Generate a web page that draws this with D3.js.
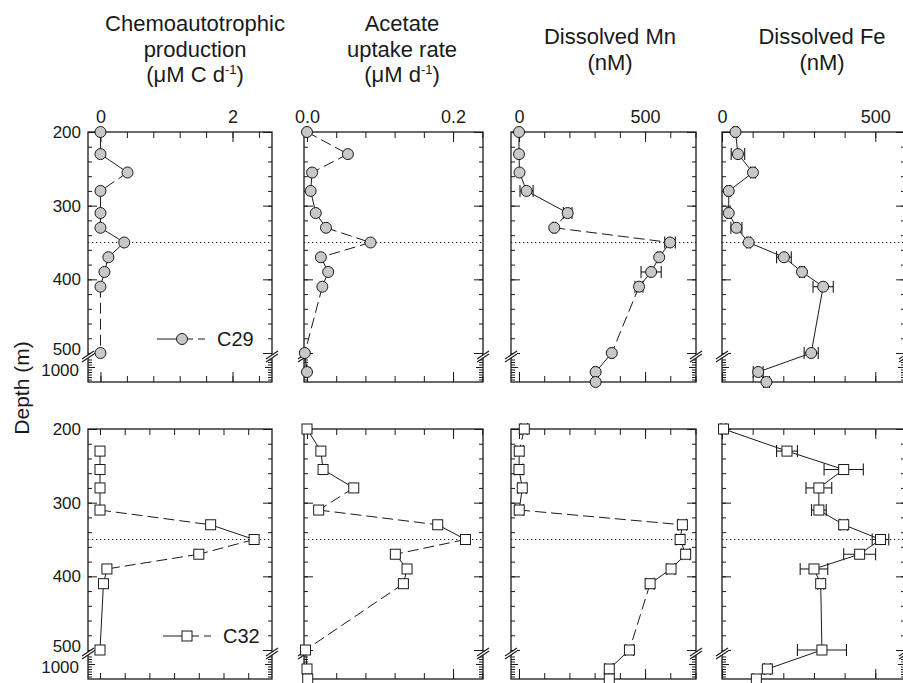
<!DOCTYPE html>
<html>
<head>
<meta charset="utf-8">
<script src="https://cdn.jsdelivr.net/npm/d3@7"></script>
<style>
  body { margin: 0; background: #fff; }
  svg { display: block; font-family: "Liberation Sans", Arial, Helvetica, sans-serif; }
</style>
</head>
<body>
<svg width="903" height="683"></svg>
<script>
// ---- data (depth in m) ----
const depthsChemoC29 = [200, 230, 255, 280, 310, 330, 350, 370, 390, 410, 500];
const chemoC29 = [0, 0, 0.41, 0, 0, 0, 0.36, 0.12, 0.06, 0, 0];

const depthsAcetateC29 = [200, 230, 255, 280, 310, 330, 350, 370, 390, 410, 500, 1100];
const acetateC29 = [0, 0.056, 0.007, 0.005, 0.012, 0.026, 0.087, 0.019, 0.029, 0.021, -0.003, 0];

const depthsMetalC29 = [200, 230, 255, 280, 310, 330, 350, 370, 390, 410, 500, 1100, 1300];
const mnC29 = [0, 0, 2, 30, 193, 140, 599, 556, 524, 476, 368, 304, 304];
const mnC29Err = [0, 0, 0, 26, 17, 6, 21, 6, 40, 16, 6, 6, 0];
const feC29 = [44, 52, 101, 22, 22, 47, 87, 202, 261, 330, 291, 118, 145];
const feC29Err = [6, 22, 8, 6, 6, 18, 6, 24, 8, 33, 23, 16, 10];

const depthsChemoC32 = [230, 255, 280, 310, 330, 350, 370, 390, 410, 500];
const chemoC32 = [0, 0, 0, 0, 2.24, 3.12, 2.0, 0.14, 0.07, 0];

const depthsC32 = [200, 230, 255, 280, 310, 330, 350, 370, 390, 410, 500, 1100, 1300];
const acetateC32 = [0, 0.019, 0.022, 0.064, 0.016, 0.179, 0.217, 0.121, 0.137, 0.132, -0.002, 0, 0.001];
const mnC32 = [21, 1, 0, 13, 1, 648, 639, 661, 603, 520, 438, 358, 358];
const mnC32Err = [13, 16, 16, 16, 16, 16, 16, 16, 16, 16, 16, 16, 16];
const feC32 = [5, 212, 397, 316, 316, 397, 517, 449, 300, 322, 326, 148, 112];
const feC32Err = [8, 34, 64, 42, 24, 12, 27, 52, 45, 10, 80, 10, 0];

// segment styles between successive samples (1 = dashed)
const chemoC29Dash = [0, 0, 1, 0, 0, 0, 0, 0, 0, 1];
const acetateC29Dash = [1, 1, 0, 0, 0, 1, 1, 0, 0, 1, 0];
const mnC29Dash = [0, 0, 0, 0, 1, 1, 0, 0, 0, 1, 0, 0];
const feC29Dash = [0, 0, 0, 0, 0, 0, 0, 0, 0, 0, 0, 0];
const chemoC32Dash = [0, 0, 0, 1, 0, 1, 1, 0, 0];
const acetateC32Dash = [0, 0, 0, 1, 1, 0, 1, 0, 0, 1, 0, 0];
const mnC32Dash = [1, 0, 0, 0, 1, 0, 0, 0, 0, 1, 0, 0];
const feC32Dash = [0, 0, 0, 0, 0, 0, 0, 0, 0, 0, 0, 0];

// ticks
const depthMajor = [200, 300, 400, 500];
const depthMinor = d3.range(220, 500, 20);
const deepLabel = [1000];
const deepMinor = d3.range(850, 1300, 50);
const chemoTicks = d3.range(0, 2.41, 0.4);
const chemoTicksC32 = d3.range(0, 3.01, 0.5);
const chemoLabels = [0, 2];
const acetateTicks = d3.range(0, 0.241, 0.04);
const acetateLabels = [0, 0.2];
const mnTicks = d3.range(0, 701, 100);
const feTicks = d3.range(0, 501, 100);
const metalLabels = [0, 500];

const oxicDepth = 350;
const seriesNames = ["C29", "C32"];

// ---- layout ----
const svg = d3.select("svg");
const ink = "#1a1a1a";
const rowTop = [132, 429];
const panelLeft = [88, 304, 511, 722];
const panelWidth = [184, 179, 185, 183];
const frameH = 250;

function depthScales(top) {
  const upper = d3.scaleLinear().domain([200, 500]).range([top, top + 221]);
  const lower = d3.scaleLinear().domain([800, 1300]).range([top + 225, top + 250]);
  const y = (d) => (d <= 500 ? upper(d) : lower(d));
  return { upper, lower, y };
}

function xScale(col, domain) {
  return d3.scaleLinear().domain(domain).range([panelLeft[col], panelLeft[col] + panelWidth[col]]);
}

const xChemoTop = xScale(0, [-0.189, 2.598]);
const xChemoBot = xScale(0, [-0.243, 3.482]);
const xAcetate = xScale(1, [-0.0041, 0.241]);
const xMn = xScale(2, [-31.7, 702]);
const xFe = xScale(3, [0, 597]);

const panels = [
  { row: 0, col: 0, x: xChemoTop, ticks: chemoTicks, labels: chemoLabels, fmt: d3.format("d"),
    depths: depthsChemoC29, values: chemoC29, dash: chemoC29Dash },
  { row: 0, col: 1, x: xAcetate, ticks: acetateTicks, labels: acetateLabels, fmt: d3.format(".1f"),
    depths: depthsAcetateC29, values: acetateC29, dash: acetateC29Dash },
  { row: 0, col: 2, x: xMn, ticks: mnTicks, labels: metalLabels, fmt: d3.format("d"),
    depths: depthsMetalC29, values: mnC29, err: mnC29Err, dash: mnC29Dash },
  { row: 0, col: 3, x: xFe, ticks: feTicks, labels: metalLabels, fmt: d3.format("d"),
    depths: depthsMetalC29, values: feC29, err: feC29Err, dash: feC29Dash },
  { row: 1, col: 0, x: xChemoBot, ticks: chemoTicksC32, labels: [],
    depths: depthsChemoC32, values: chemoC32, dash: chemoC32Dash },
  { row: 1, col: 1, x: xAcetate, ticks: acetateTicks, labels: acetateLabels,
    depths: depthsC32, values: acetateC32, dash: acetateC32Dash },
  { row: 1, col: 2, x: xMn, ticks: mnTicks, labels: metalLabels,
    depths: depthsC32, values: mnC32, err: mnC32Err, dash: mnC32Dash },
  { row: 1, col: 3, x: xFe, ticks: feTicks, labels: metalLabels,
    depths: depthsC32, values: feC32, err: feC32Err, dash: feC32Dash },
];

function styleAxis(g) {
  g.select(".domain").remove();
  g.selectAll(".tick line").attr("stroke", ink).attr("stroke-width", 1);
  g.selectAll(".tick text").attr("fill", ink).style("font-size", "18px");
}

panels.forEach((p) => {
  const top = rowTop[p.row];
  const left = panelLeft[p.col];
  const right = left + panelWidth[p.col];
  const bottom = top + frameH;
  const ys = depthScales(top);
  const g = svg.append("g");

  // frame
  g.append("rect")
    .attr("x", left).attr("y", top)
    .attr("width", panelWidth[p.col]).attr("height", frameH)
    .attr("fill", "none").attr("stroke", ink).attr("stroke-width", 1.3);

  // x ticks, top and bottom, pointing inward
  const showLabels = p.row === 0;
  g.append("g").attr("transform", `translate(0,${top})`)
    .call(d3.axisTop(p.x).tickValues(p.ticks).tickSize(-6).tickFormat(""))
    .call(styleAxis);
  g.append("g").attr("transform", `translate(0,${bottom})`)
    .call(d3.axisBottom(p.x).tickValues(p.ticks).tickSize(-6).tickFormat(""))
    .call(styleAxis);
  if (p.labels.length) {
    g.append("g").attr("transform", `translate(0,${top})`)
      .call(d3.axisTop(p.x).tickValues(p.labels).tickSize(-10).tickPadding(9)
        .tickFormat(showLabels ? p.fmt : ""))
      .call(styleAxis);
    g.append("g").attr("transform", `translate(0,${bottom})`)
      .call(d3.axisBottom(p.x).tickValues(p.labels).tickSize(-10).tickFormat(""))
      .call(styleAxis);
  }

  // depth ticks, left and right
  [[d3.axisLeft, left], [d3.axisRight, right]].forEach(([axis, xPos], side) => {
    const labelled = p.col === 0 && side === 0;
    g.append("g").attr("transform", `translate(${xPos},0)`)
      .call(axis(ys.upper).tickValues(depthMinor).tickSize(-4).tickFormat(""))
      .call(styleAxis);
    g.append("g").attr("transform", `translate(${xPos},0)`)
      .call(axis(ys.upper).tickValues(depthMajor).tickSize(-9).tickPadding(7)
        .tickFormat(labelled ? d3.format("d") : ""))
      .call(styleAxis)
      .call((ax) => ax.selectAll(".tick text")
        .style("font-size", "17px")
        .attr("dy", (d) => (d === 500 ? "0.1em" : "0.32em")));
    g.append("g").attr("transform", `translate(${xPos},0)`)
      .call(axis(ys.lower).tickValues(deepMinor).tickSize(-4).tickFormat(""))
      .call(styleAxis);
    g.append("g").attr("transform", `translate(${xPos},0)`)
      .call(axis(ys.lower).tickValues(deepLabel).tickSize(-7).tickPadding(9)
        .tickFormat(labelled ? d3.format("d") : ""))
      .call(styleAxis)
      .call((ax) => ax.selectAll(".tick text")
        .style("font-size", "17px").attr("dy", "0.5em"));
  });

  // axis break marks
  const yb = top + 224;
  [left, right].forEach((xb) => {
    g.append("polygon")
      .attr("points", `${xb - 6},${yb + 3} ${xb + 6},${yb - 5} ${xb + 6},${yb - 2} ${xb - 6},${yb + 6}`)
      .attr("fill", "#fff");
    [0, 3].forEach((o) => {
      g.append("line")
        .attr("x1", xb - 6).attr("y1", yb + 3 + o)
        .attr("x2", xb + 6).attr("y2", yb - 5 + o)
        .attr("stroke", ink).attr("stroke-width", 1.1);
    });
  });

  // dotted reference depth
  g.append("line")
    .attr("x1", left).attr("x2", right)
    .attr("y1", ys.y(oxicDepth)).attr("y2", ys.y(oxicDepth))
    .attr("stroke", ink).attr("stroke-width", 1.2)
    .attr("stroke-dasharray", "1.3,2.7");

  // profile segments
  const pts = p.depths.map((d, i) => [p.x(p.values[i]), ys.y(d)]);
  const line = d3.line();
  p.dash.forEach((dsh, i) => {
    g.append("path")
      .attr("d", line([pts[i], pts[i + 1]]))
      .attr("fill", "none").attr("stroke", ink).attr("stroke-width", 1)
      .attr("stroke-dasharray", dsh ? "11,5" : null);
  });

  // error bars
  if (p.err) {
    p.err.forEach((e, i) => {
      if (!e) return;
      const y = pts[i][1];
      const x0 = p.x(p.values[i] - e);
      const x1 = p.x(p.values[i] + e);
      g.append("line").attr("x1", x0).attr("x2", x1).attr("y1", y).attr("y2", y)
        .attr("stroke", ink).attr("stroke-width", 1.1);
      [x0, x1].forEach((xc) => {
        g.append("line").attr("x1", xc).attr("x2", xc).attr("y1", y - 6).attr("y2", y + 6)
          .attr("stroke", ink).attr("stroke-width", 1.1);
      });
    });
  }

  // markers
  if (p.row === 0) {
    g.selectAll("circle.m").data(pts).enter().append("circle")
      .attr("cx", (d) => d[0]).attr("cy", (d) => d[1]).attr("r", 5.5)
      .attr("fill", "#c8c8c8").attr("stroke", ink).attr("stroke-width", 1);
  } else {
    g.selectAll("rect.m").data(pts).enter().append("rect")
      .attr("x", (d) => d[0] - 5).attr("y", (d) => d[1] - 5)
      .attr("width", 10).attr("height", 10)
      .attr("fill", "#fff").attr("stroke", ink).attr("stroke-width", 1);
  }
});

// legends
[0, 1].forEach((row) => {
  const y = rowTop[row] + 207;
  const x0 = row === 0 ? 157 : 163;
  const g = svg.append("g");
  g.append("line").attr("x1", x0).attr("x2", x0 + 36).attr("y1", y).attr("y2", y)
    .attr("stroke", ink).attr("stroke-width", 1);
  g.append("line").attr("x1", x0 + 41).attr("x2", x0 + 48).attr("y1", y).attr("y2", y)
    .attr("stroke", ink).attr("stroke-width", 1);
  if (row === 0) {
    g.append("circle").attr("cx", x0 + 25).attr("cy", y).attr("r", 5.5)
      .attr("fill", "#c8c8c8").attr("stroke", ink);
  } else {
    g.append("rect").attr("x", x0 + 19).attr("y", y - 5).attr("width", 10).attr("height", 10)
      .attr("fill", "#fff").attr("stroke", ink);
  }
  g.append("text").attr("x", x0 + 60).attr("y", y + 7)
    .attr("fill", ink).style("font-size", "20px").text(seriesNames[row]);
});

// column titles
const titles = [
  { x: 195, lines: [["Chemoautotrophic"], ["production"], ["(μM C d", "-1", ")"]] },
  { x: 402, lines: [["Acetate"], ["uptake rate"], ["(μM d", "-1", ")"]] },
  { x: 610, lines: [["Dissolved Mn"], ["(nM)"]] },
  { x: 822, lines: [["Dissolved Fe"], ["(nM)"]] },
];
titles.forEach((t) => {
  const y0 = t.lines.length === 3 ? 31 : 44;
  t.lines.forEach((parts, i) => {
    const txt = svg.append("text")
      .attr("x", t.x).attr("y", y0 + i * 25.5)
      .attr("text-anchor", "middle").attr("fill", ink)
      .style("font-size", "22px");
    txt.append("tspan").text(parts[0]);
    if (parts.length > 1) {
      txt.append("tspan").attr("dy", -8).style("font-size", "13px").text(parts[1]);
      txt.append("tspan").attr("dy", 8).text(parts[2]);
    }
  });
});

// depth axis title
svg.append("text")
  .attr("transform", "translate(29,388) rotate(-90)")
  .attr("text-anchor", "middle").attr("fill", ink)
  .style("font-size", "21px")
  .text("Depth (m)");
</script>
</body>
</html>
